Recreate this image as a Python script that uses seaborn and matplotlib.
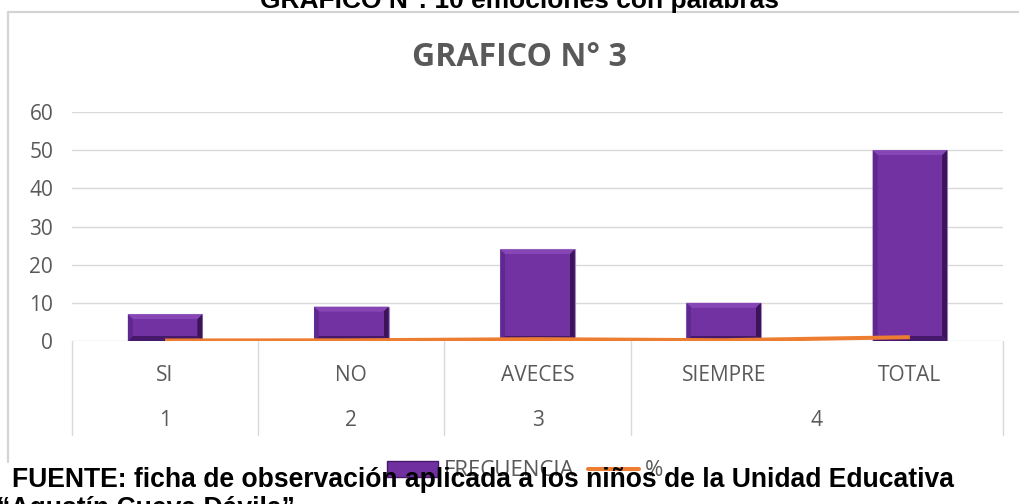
import matplotlib
matplotlib.use("Agg")
import matplotlib.pyplot as plt
import seaborn as sns
from matplotlib.patches import Polygon, Patch
from matplotlib.lines import Line2D
from matplotlib import transforms

# datos del grafico
CATEGORIAS = ["SI", "NO", "AVECES", "SIEMPRE", "TOTAL"]
GRUPOS = ["1", "2", "3", "4", "4"]
FRECUENCIA = [7, 9, 24, 10, 50]
PORCENTAJE = [0.14, 0.18, 0.48, 0.20, 1.00]
Y_TICKS = [0, 10, 20, 30, 40, 50, 60]

TITULO = "GRAFICO N° 3"
CAPTION_TOP = "GRAFICO N°: 10 emociones con palabras"
FUENTE = "FUENTE: ficha de observación aplicada a los niños de la Unidad Educativa"
FUENTE_2 = "\u201cAgustín Cueva Dávila\u201d"

PURPLE = "#7030A0"
ORANGE = "#ED7D31"
GRAY_TXT = "#595959"
GRID = "#D9D9D9"

W, H = 1019, 504

sns.set_style("white")
plt.rcParams["font.family"] = ["Open Sans", "DejaVu Sans"]

fig = plt.figure(figsize=(W / 100, H / 100), dpi=100)
ax = fig.add_axes([72 / W, 1 - 341 / H, 931 / W, 229 / H])

sns.barplot(x=CATEGORIAS, y=FRECUENCIA, color=PURPLE, saturation=1,
            width=0.4, ax=ax, edgecolor="#A58BC4", linewidth=0.8)
sns.pointplot(x=CATEGORIAS, y=PORCENTAJE, color=ORANGE, markers="",
              linewidth=2.9, errorbar=None, ax=ax)

ax.set_xlim(-0.5, len(CATEGORIAS) - 0.5)
ax.set_ylim(0, 60)
ax.set_yticks(Y_TICKS)
ax.set_xlabel("")
ax.set_ylabel("")
ax.yaxis.grid(True, color=GRID, lw=1)
ax.set_axisbelow(True)
sns.despine(ax=ax, left=True, bottom=True)
ax.tick_params(length=0, colors=GRAY_TXT, labelsize=15)
ax.tick_params(axis="y", pad=13.5)
ax.tick_params(axis="x", pad=17)
for ln in ax.lines:
    ln.set_zorder(4)
    ln.set_solid_capstyle("butt")

# efecto bisel en las barras
inv = ax.transData.inverted()
d = 5
for p in list(ax.patches):
    (x0, y0) = ax.transData.transform((p.get_x(), p.get_y()))
    (x1, y1) = ax.transData.transform((p.get_x() + p.get_width(), p.get_y() + p.get_height()))
    piezas = [
        ([(x0, y1), (x1, y1), (x1 - d, y1 - d), (x0 + d, y1 - d)], "#8646B6"),
        ([(x0, y0), (x0, y1), (x0 + d, y1 - d), (x0 + d, y0 + d)], "#5F2890"),
        ([(x1, y0), (x1, y1), (x1 - d, y1 - d), (x1 - d, y0 + d)], "#3B1558"),
        ([(x0, y0), (x1, y0), (x1 - d, y0 + d), (x0 + d, y0 + d)], "#47196A"),
        ([(x0 + d, y0 + d), (x1 - d, y0 + d), (x1 - d, y1 - d), (x0 + d, y1 - d)], "#7332A1"),
    ]
    for pts, col in piezas:
        ax.add_patch(Polygon(inv.transform(pts), closed=True, facecolor=col,
                             edgecolor="none", zorder=2))

# segundo nivel del eje x (grupos)
trans = transforms.blended_transform_factory(ax.transData, fig.transFigure)
spans = []
for i, g in enumerate(GRUPOS):
    if spans and spans[-1][0] == g:
        spans[-1][2] = i
    else:
        spans.append([g, i, i])
bordes = [-0.5] + [fin + 0.5 for _, _, fin in spans]
for b in bordes:
    ax.add_line(Line2D([b, b], [1 - 341 / H, 1 - 435 / H], transform=trans,
                       color=GRID, lw=1, clip_on=False))
for g, ini, fin in spans:
    ax.text((ini + fin) / 2, 1 - 421 / H, g, transform=trans, ha="center",
            va="center", fontsize=15, color=GRAY_TXT)

fig.text(519 / W, 1 - 58 / H, TITULO, ha="center", va="center", fontsize=23,
         fontweight="bold", color=GRAY_TXT)

# marco del grafico
fig.add_artist(Line2D([8 / W, 1], [1 - 12 / H, 1 - 12 / H], color="#D4D4D4", lw=1.6))
fig.add_artist(Line2D([8 / W, 8 / W], [1 - 12 / H, 1 - 462 / H], color="#D4D4D4", lw=1.6))

handles = [Patch(facecolor=PURPLE, edgecolor="#47196A"),
           Line2D([], [], color=ORANGE, lw=2.9)]
fig.legend(handles=handles, labels=["FRECUENCIA", "%"], loc="center left",
           bbox_to_anchor=(387 / W, 1 - 471 / H), ncol=2, frameon=False,
           fontsize=16, handlelength=2.3, handletextpad=0.25, columnspacing=0.6,
           borderpad=0, borderaxespad=0, labelcolor=GRAY_TXT)

fig.text(260 / W, 1 - 8 / H, CAPTION_TOP, ha="left", va="baseline", fontsize=19,
         fontweight="bold", family="Liberation Sans", color="black", zorder=10)
fig.text(12 / W, 1 - 487 / H, FUENTE, ha="left", va="baseline", fontsize=19.1,
         fontweight="bold", family="Liberation Sans", color="black", zorder=10)
fig.text(-3 / W, 1 - 516 / H, FUENTE_2, ha="left", va="baseline", fontsize=19.1,
         fontweight="bold", family="Liberation Sans", color="black", zorder=10)

fig.savefig("out.png", dpi=100)
